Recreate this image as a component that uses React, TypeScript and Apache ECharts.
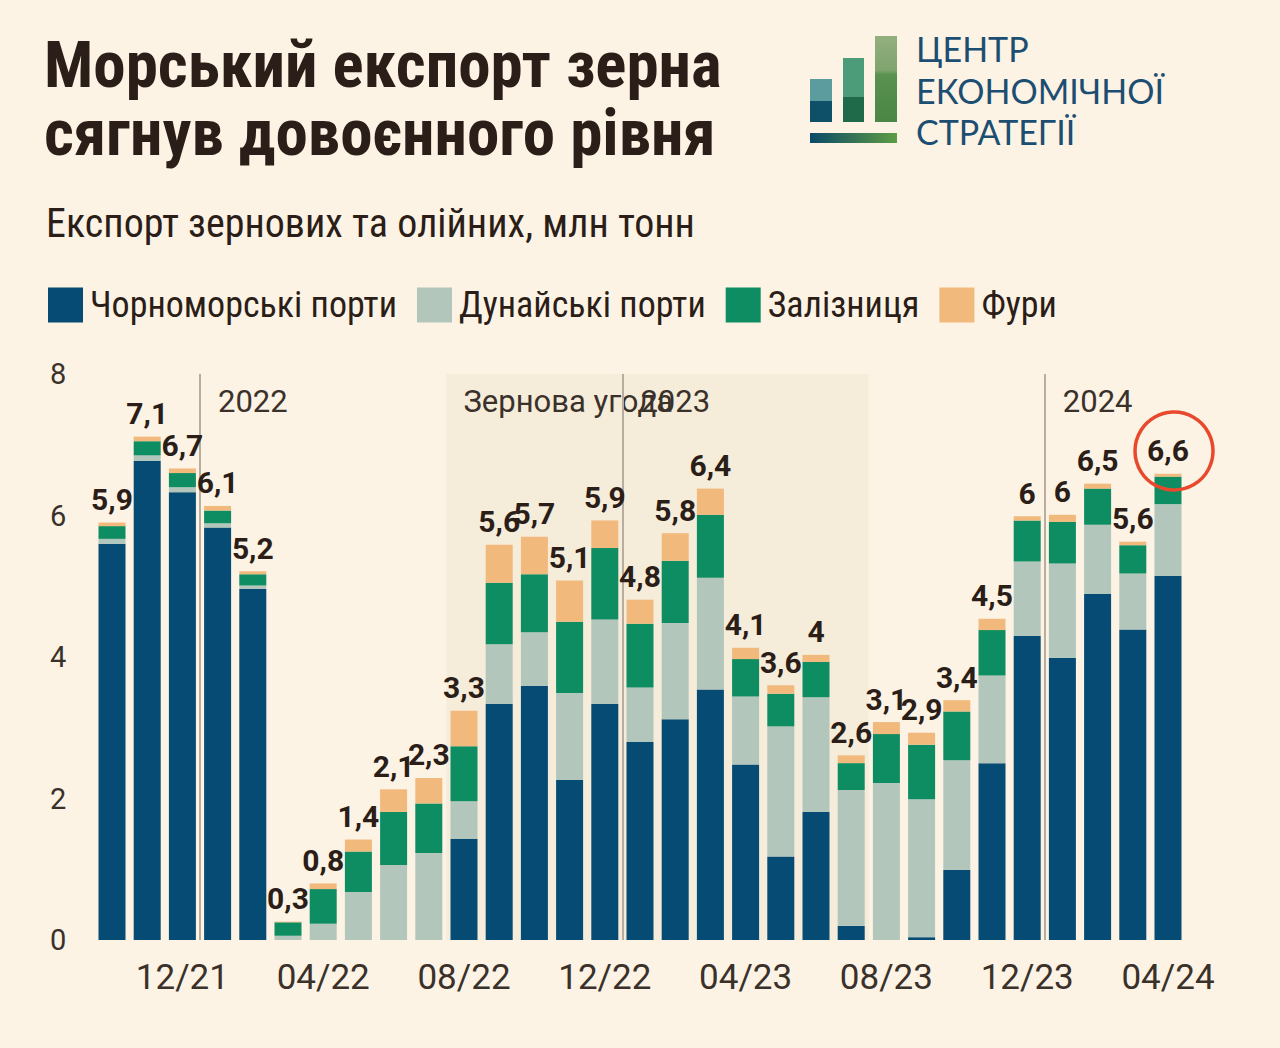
import React, { useEffect, useRef } from "react";
import * as echarts from "echarts";

const categories = [
  "10/21", "11/21", "12/21", "01/22", "02/22", "03/22", "04/22", "05/22", "06/22", "07/22",
  "08/22", "09/22", "10/22", "11/22", "12/22", "01/23", "02/23", "03/23", "04/23", "05/23",
  "06/23", "07/23", "08/23", "09/23", "10/23", "11/23", "12/23", "01/24", "02/24", "03/24", "04/24",
];

const blackSea = [5.6, 6.77, 6.33, 5.83, 4.96, 0, 0, 0, 0, 0, 1.43, 3.34, 3.59, 2.26, 3.34, 2.8, 3.12, 3.54, 2.48, 1.18, 1.81, 0.2, 0, 0.04, 0.99, 2.5, 4.3, 3.99, 4.89, 4.39, 5.15];
const danube = [0.07, 0.08, 0.07, 0.06, 0.05, 0.06, 0.23, 0.68, 1.06, 1.23, 0.53, 0.84, 0.76, 1.23, 1.19, 0.77, 1.36, 1.58, 0.96, 1.84, 1.62, 1.92, 2.22, 1.95, 1.55, 1.24, 1.05, 1.33, 0.98, 0.79, 1.01];
const rail = [0.18, 0.2, 0.2, 0.18, 0.16, 0.19, 0.49, 0.57, 0.75, 0.7, 0.78, 0.87, 0.82, 1.01, 1.01, 0.9, 0.88, 0.89, 0.53, 0.46, 0.5, 0.38, 0.69, 0.77, 0.69, 0.64, 0.58, 0.59, 0.51, 0.4, 0.39];
const trucks = [0.05, 0.065, 0.065, 0.065, 0.043, 0.01, 0.08, 0.17, 0.32, 0.36, 0.5, 0.535, 0.53, 0.58, 0.39, 0.34, 0.39, 0.37, 0.16, 0.12, 0.1, 0.11, 0.17, 0.17, 0.16, 0.16, 0.06, 0.1, 0.07, 0.05, 0.04];
const totals = [5.9, 7.1, 6.7, 6.1, 5.2, 0.3, 0.8, 1.4, 2.1, 2.3, 3.3, 5.6, 5.7, 5.1, 5.9, 4.8, 5.8, 6.4, 4.1, 3.6, 4, 2.6, 3.1, 2.9, 3.4, 4.5, 6, 6, 6.5, 5.6, 6.6];

const seriesNames = ["Чорноморські порти", "Дунайські порти", "Залізниця", "Фури"];
const yearLabels = ["2022", "2023", "2024"];
const yearStarts = ["01/22", "01/23", "01/24"];
const dealLabel = "Зернова угода";
const dealStart = "08/22";
const dealEnd = "07/23";
const highlighted = "04/24";

const BG = "#fcf3e5";
const SHADE = "#f5ecda";
const TEXT = "#2b1d17";
const AXIS_TEXT = "#3a312b";
const COLORS = ["#064b73", "#b3c6bc", "#0e8c62", "#f2b97c"];
const NARROW = '"Liberation Sans Narrow", "Roboto Condensed", "DejaVu Sans Condensed", Roboto, sans-serif';
const ROBOTO = 'Roboto, "Noto Sans", sans-serif';
const LOGO_FONT = "Lato, 'Open Sans', sans-serif";

export default function App() {
  const ref = useRef<HTMLDivElement>(null);

  useEffect(() => {
    if (!ref.current) return;
    const chart = echarts.init(ref.current, null, { renderer: "svg" });
    const idx = (c: string) => categories.indexOf(c);
    const fmt = (v: number) => String(v).replace(".", ",");

    const stackData = [blackSea, danube, rail, trucks];
    const barSeries = stackData.map((arr, i) => ({
      name: seriesNames[i],
      type: "bar",
      stack: "total",
      barWidth: 27,
      z: 3,
      data: arr,
      itemStyle: { color: COLORS[i] },
      label:
        i === 3
          ? {
              show: true,
              position: "top",
              distance: 8,
              formatter: (p: any) => fmt(totals[p.dataIndex]),
              fontFamily: ROBOTO,
              fontWeight: "bold",
              fontSize: 30,
              color: TEXT,
            }
          : { show: false },
      markPoint:
        i === 3
          ? {
              symbol: "circle",
              symbolSize: 78,
              symbolOffset: [6, -22],
              silent: true,
              label: { show: false },
              itemStyle: { color: "rgba(0,0,0,0)", borderColor: "#e8492c", borderWidth: 3.5 },
              data: [{ coord: [highlighted, totals[idx(highlighted)]] }],
            }
          : undefined,
    }));

    const yearMarkAreas = yearStarts.map((c, k) => [
      {
        xAxis: idx(c) - 0.5,
        itemStyle: { color: "rgba(0,0,0,0)" },
        label: {
          show: true,
          position: "insideTopLeft",
          formatter: yearLabels[k],
          offset: [13, 7],
          fontFamily: ROBOTO,
          fontSize: 31,
          color: AXIS_TEXT,
        },
      },
      { xAxis: idx(c) + 2 },
    ]);

    const logoText = (text: string, y: number) => ({
      type: "text",
      x: 916,
      y,
      style: { text, fontFamily: LOGO_FONT, fontSize: 34, fill: "#1c4e72", verticalAlign: "middle" },
    });

    const option: any = {
      animation: false,
      backgroundColor: BG,
      title: [
        {
          text: "Морський експорт зерна\nсягнув довоєнного рівня",
          left: 39,
          top: 26,
          textStyle: { fontFamily: NARROW, fontWeight: "bold", fontSize: 65, lineHeight: 68, color: TEXT },
        },
        {
          text: "Експорт зернових та олійних, млн тонн",
          left: 41,
          top: 198,
          textStyle: { fontFamily: NARROW, fontWeight: "normal", fontSize: 40, color: TEXT },
        },
      ],
      legend: {
        data: seriesNames,
        left: 43,
        top: 282,
        icon: "rect",
        itemWidth: 35,
        itemHeight: 35,
        itemGap: 20,
        textStyle: { fontFamily: NARROW, fontSize: 36, color: TEXT, padding: [0, 0, 0, 2] },
        selectedMode: false,
      },
      grid: { left: 94.4, right: 94.4, top: 374, bottom: 108, outerBoundsMode: "none" },
      xAxis: [
        {
          type: "category",
          data: categories,
          axisLine: { show: false },
          axisTick: { show: false },
          axisLabel: {
            interval: (i: number) => (i - 2) % 4 === 0,
            fontFamily: ROBOTO,
            fontSize: 35,
            color: AXIS_TEXT,
            margin: 20,
          },
        },
        { type: "value", min: -0.5, max: categories.length - 0.5, show: false },
      ],
      yAxis: {
        type: "value",
        min: 0,
        max: 8,
        interval: 2,
        axisLine: { show: false },
        axisTick: { show: false },
        splitLine: { show: false },
        axisLabel: { fontFamily: ROBOTO, fontSize: 29, color: AXIS_TEXT, margin: 28 },
      },
      series: [
        {
          type: "line",
          xAxisIndex: 1,
          data: [],
          silent: true,
          z: 1,
          markArea: {
            silent: true,
            z: 1,
            data: [
              [
                {
                  xAxis: idx(dealStart) - 0.5,
                  itemStyle: { color: SHADE },
                  label: {
                    show: true,
                    position: "insideTopLeft",
                    formatter: dealLabel,
                    offset: [12, 7],
                    fontFamily: ROBOTO,
                    fontSize: 31,
                    color: AXIS_TEXT,
                  },
                },
                { xAxis: idx(dealEnd) + 0.5 },
              ],
              ...yearMarkAreas,
            ],
          },
          markLine: {
            silent: true,
            z: 2,
            symbol: ["none", "none"],
            label: { show: false },
            lineStyle: { color: "#b8ad9e", width: 2, type: "solid" },
            data: yearStarts.map((c) => ({ xAxis: idx(c) - 0.5 })),
          },
        },
        ...barSeries,
      ],
      graphic: [
        { type: "rect", shape: { x: 810, y: 79, width: 22, height: 22 }, style: { fill: "#5c9c9f" } },
        { type: "rect", shape: { x: 810, y: 101, width: 22, height: 21 }, style: { fill: "#0f5069" } },
        { type: "rect", shape: { x: 843, y: 58, width: 21, height: 39 }, style: { fill: "#4d9c79" } },
        { type: "rect", shape: { x: 843, y: 97, width: 21, height: 25 }, style: { fill: "#1f6a48" } },
        {
          type: "rect",
          shape: { x: 875, y: 36, width: 22, height: 86 },
          style: {
            fill: new echarts.graphic.LinearGradient(0, 0, 0, 1, [
              { offset: 0, color: "#93af7f" },
              { offset: 0.4, color: "#7fa46e" },
              { offset: 0.45, color: "#5a9150" },
              { offset: 1, color: "#4a8645" },
            ]),
          },
        },
        {
          type: "rect",
          shape: { x: 810, y: 133, width: 87, height: 10 },
          style: {
            fill: new echarts.graphic.LinearGradient(0, 0, 1, 0, [
              { offset: 0, color: "#0b4a68" },
              { offset: 1, color: "#5f9c44" },
            ]),
          },
        },
        logoText("ЦЕНТР", 48),
        logoText("ЕКОНОМІЧНОЇ", 90),
        logoText("СТРАТЕГІЇ", 131),
      ],
    };

    chart.setOption(option);
    return () => chart.dispose();
  }, []);

  return (
    <div
      ref={ref}
      style={{ position: "fixed", left: 0, top: 0, width: 1280, height: 1048, background: BG }}
    />
  );
}
